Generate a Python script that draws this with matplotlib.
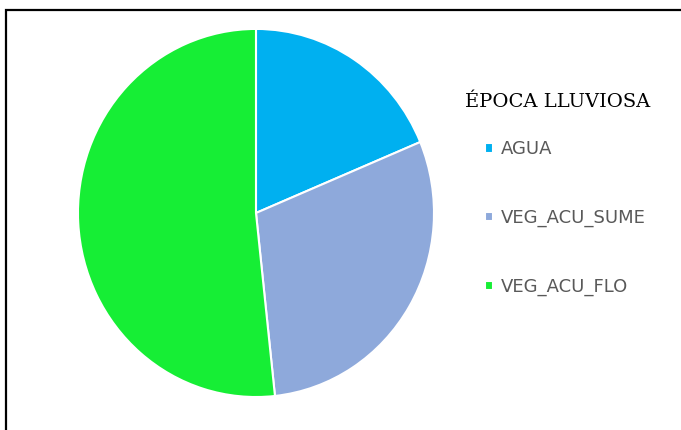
import matplotlib.pyplot as plt
from matplotlib.patches import Rectangle

categorias = ["AGUA", "VEG_ACU_SUME", "VEG_ACU_FLO"]
porcentajes = [18.7, 29.6, 51.7]
colores = ["#00B0F0", "#8EA9DB", "#16EE35"]
titulo = "ÉPOCA LLUVIOSA"

fig = plt.figure(figsize=(6.81, 4.30), dpi=100)

# marco negro del grafico
fig.patches.append(Rectangle((0.0095, -0.1), 1.2, 1.077, transform=fig.transFigure,
                             fill=False, edgecolor="black", linewidth=1.6))

ax = fig.add_axes([0.1145, 0.0767, 0.5228, 0.856])
cunas, _ = ax.pie(porcentajes, colors=colores, startangle=90, counterclock=False,
                  wedgeprops={"edgecolor": "white", "linewidth": 1.5})
ax.set_aspect("auto")
ax.set_xlim(-1, 1)
ax.set_ylim(-1, 1)
ax.axis("off")

fig.text(0.683, 0.762, titulo, family="DejaVu Serif", fontsize=14,
         color="black", va="center", ha="left")

fig.legend(cunas, categorias, loc="upper left", bbox_to_anchor=(0.702, 0.691),
           frameon=False, fontsize=13, labelcolor="#595959",
           handlelength=0.45, handleheight=0.45, handletextpad=0.4,
           labelspacing=2.81, borderaxespad=0)

fig.savefig("out.png", dpi=100)
